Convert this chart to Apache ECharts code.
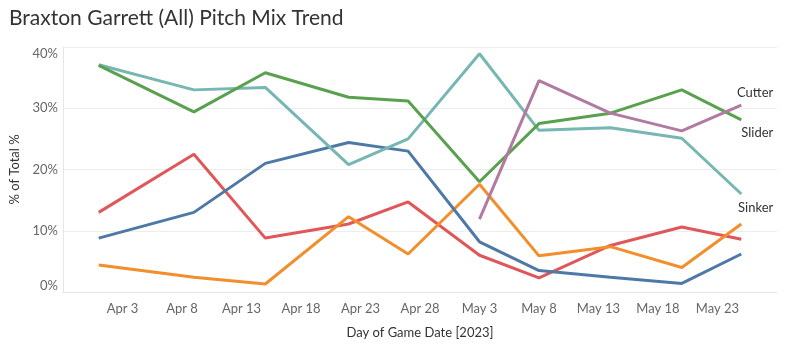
<!DOCTYPE html>
<html>
<head>
    <meta charset="utf-8">
    <title>Braxton Garrett (All) Pitch Mix Trend</title>
    <script src="https://cdn.jsdelivr.net/npm/echarts@6/dist/echarts.min.js"></script>
    <style>
        html, body { margin: 0; padding: 0; background: #fff; }
        #main { width: 785px; height: 352px; }
    </style>
</head>
<body>
    <div id="main"></div>
<script type="text/javascript">
    // days counted from Mar 29, 2023 (Apr 3 = 5)
    var gameDays = [3, 11, 17, 24, 29, 35, 40, 46, 52, 57];
    var tickDays = [5, 10, 15, 20, 25, 30, 35, 40, 45, 50, 55];
    var tickLabels = ['Apr 3', 'Apr 8', 'Apr 13', 'Apr 18', 'Apr 23', 'Apr 28', 'May 3', 'May 8', 'May 13', 'May 18', 'May 23'];

    // % of total per game
    var slider = [37.0, 29.4, 35.8, 31.8, 31.2, 18.0, 27.5, 29.2, 33.0, 28.1];
    var sinker = [37.1, 33.0, 33.4, 20.8, 25.0, 38.9, 26.4, 26.8, 25.1, 16.0];
    var fourSeam = [8.8, 13.0, 21.0, 24.4, 23.0, 8.2, 3.5, 2.4, 1.4, 6.2];
    var changeup = [13.0, 22.5, 8.8, 11.1, 14.7, 6.0, 2.3, 7.6, 10.6, 8.6];
    var curveball = [4.4, 2.4, 1.3, 12.3, 6.2, 17.6, 5.9, 7.4, 4.0, 11.1];
    var cutter = [null, null, null, null, null, 11.9, 34.5, 29.2, 26.3, 30.5];

    var myChart = echarts.init(document.getElementById('main'));

    function pairs(vals) {
        var out = [];
        for (var i = 0; i < vals.length; i++) {
            if (vals[i] != null) out.push([gameDays[i], vals[i]]);
        }
        return out;
    }

    function lineSeries(name, color, vals, endLabel) {
        var s = {
            name: name,
            type: 'line',
            data: pairs(vals),
            showSymbol: false,
            symbol: 'none',
            lineStyle: { color: color, width: 3 },
            itemStyle: { color: color },
            animation: false
        };
        if (endLabel) {
            s.endLabel = endLabel;
        }
        return s;
    }

    var labelFont = { fontFamily: 'Lato', fontSize: 13, color: '#333', formatter: '{a}', align: 'right', distance: 32 };

    var option = {
        title: {
            text: 'Braxton Garrett (All) Pitch Mix Trend',
            left: 4,
            top: 3,
            textStyle: { fontFamily: 'Lato', fontSize: 21, fontWeight: 'normal', color: '#333' }
        },
        grid: { left: 63, right: 8, top: 47, bottom: 60 },
        xAxis: {
            type: 'value',
            min: 0,
            max: 60,
            interval: 5,
            name: 'Day of Game Date [2023]',
            nameLocation: 'middle',
            nameGap: 34,
            nameTextStyle: { fontFamily: 'Lato', fontSize: 13, color: '#333' },
            axisLine: { show: true, lineStyle: { color: '#e6e6e6' } },
            axisTick: { show: false },
            splitLine: { show: false },
            axisLabel: {
                fontFamily: 'Lato', fontSize: 13, color: '#666', margin: 10,
                formatter: function (v) {
                    var k = tickDays.indexOf(v);
                    return k >= 0 ? tickLabels[k] : '';
                }
            }
        },
        yAxis: {
            type: 'value',
            min: 0,
            max: 40,
            interval: 10,
            name: '% of Total %',
            nameLocation: 'middle',
            nameGap: 38,
            nameTextStyle: { fontFamily: 'Lato', fontSize: 13, color: '#333' },
            axisLine: { show: true, lineStyle: { color: '#e6e6e6' } },
            axisTick: { show: false },
            splitLine: { lineStyle: { color: '#ededed' } },
            axisLabel: {
                fontFamily: 'Lato', fontSize: 13, color: '#666', margin: 5,
                formatter: '{value}%',
                verticalAlignMaxLabel: 'top',
                verticalAlignMinLabel: 'bottom'
            }
        },
        series: [
            lineSeries('Changeup', '#e15759', changeup),
            lineSeries('Curveball', '#f28e2b', curveball),
            lineSeries('Four-Seam', '#4e79a7', fourSeam),
            lineSeries('Sinker', '#76b7b2', sinker,
                Object.assign({ show: true, verticalAlign: 'top', padding: [7, 0, 0, 0] }, labelFont)),
            lineSeries('Slider', '#59a14f', slider,
                Object.assign({ show: true, verticalAlign: 'top', padding: [6, 0, 0, 0] }, labelFont)),
            lineSeries('Cutter', '#b07aa1', cutter,
                Object.assign({ show: true, verticalAlign: 'bottom', padding: [0, 0, 6, 0] }, labelFont))
        ]
    };

    myChart.setOption(option);
</script>
</body>
</html>
